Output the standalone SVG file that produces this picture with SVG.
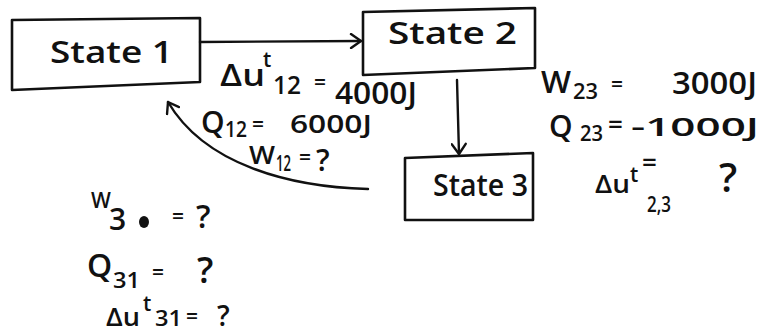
<svg xmlns="http://www.w3.org/2000/svg" width="762" height="334" viewBox="0 0 762 334">
<style>
  .box { fill: none; stroke: #111; stroke-width: 2.6; stroke-linejoin: round; }
  .conn { fill: none; stroke: #111; stroke-width: 2.4; stroke-linecap: round; }
  text { font-family: "Open Sans", "DejaVu Sans", sans-serif; fill: #111; font-weight: 600; }
  .lbl { font-size: 30px; }
  .med { font-size: 26px; }
  .sub { font-size: 21px; }
</style>
<defs>
  <marker id="arr" markerWidth="16" markerHeight="16" refX="14" refY="8" orient="auto" markerUnits="userSpaceOnUse">
    <path d="M4,1 L14,8 L4,15" fill="none" stroke="#111" stroke-width="2.4" stroke-linecap="round" stroke-linejoin="round"/>
  </marker>
</defs>
<rect width="762" height="334" fill="#ffffff"/>

<g id="state1">
  <path class="box" d="M12,20 L200,18 L200,82 L12,90 Z"/>
  <text class="lbl" x="50" y="63" textLength="123" lengthAdjust="spacingAndGlyphs">State 1</text>
</g>
<g id="state2">
  <path class="box" d="M363,12 L535,8 L535,68 L363,75 Z"/>
  <text class="lbl" x="388" y="44" textLength="129" lengthAdjust="spacingAndGlyphs">State 2</text>
</g>
<g id="state3">
  <path class="box" d="M405,158 L533,153 L533,220 L405,220 Z"/>
  <text class="lbl" x="433" y="196" textLength="95" lengthAdjust="spacingAndGlyphs">State 3</text>
</g>

<g id="connectors">
  <path class="conn" d="M200,42 L361,41" marker-end="url(#arr)"/>
  <path class="conn" d="M457,80 L459,154" marker-end="url(#arr)"/>
  <path class="conn" d="M368,189 C290,187 205,165 168,102" marker-end="url(#arr)"/>
</g>

<g id="label-12">
  <text class="lbl" x="220" y="86" textLength="45" lengthAdjust="spacingAndGlyphs">Δu</text>
  <text class="sub" x="263" y="67">t</text>
  <text class="med" x="273" y="94" font-size="24" textLength="28" lengthAdjust="spacingAndGlyphs">12</text>
  <text class="sub" x="314" y="90">=</text>
  <text class="lbl" x="335" y="104" font-size="26" textLength="82" lengthAdjust="spacingAndGlyphs">4000J</text>
  <text class="lbl" x="201" y="133">Q</text>
  <text class="sub" x="225" y="137" font-size="20" textLength="22" lengthAdjust="spacingAndGlyphs">12</text>
  <text class="sub" x="252" y="132">=</text>
  <text class="med" x="290" y="133" textLength="82" lengthAdjust="spacingAndGlyphs">6000J</text>
  <text class="med" x="249" y="164" font-size="24" textLength="26" lengthAdjust="spacingAndGlyphs">W</text>
  <text class="sub" x="276" y="171" font-size="18" textLength="15" lengthAdjust="spacingAndGlyphs">12</text>
  <text class="sub" x="299" y="165" font-size="16">=</text>
  <text class="lbl" x="316" y="171">?</text>
</g>

<g id="label-23">
  <text class="lbl" x="541" y="93" textLength="30" lengthAdjust="spacingAndGlyphs">W</text>
  <text class="sub" x="573" y="99" font-size="22" textLength="25" lengthAdjust="spacingAndGlyphs">23</text>
  <text class="sub" x="611" y="92">=</text>
  <text class="lbl" x="672" y="94" textLength="85" lengthAdjust="spacingAndGlyphs">3000J</text>
  <text class="lbl" x="549" y="137">Q</text>
  <text class="sub" x="580" y="141" font-size="22" textLength="23" lengthAdjust="spacingAndGlyphs">23</text>
  <text class="med" x="608" y="133" font-size="22">=</text>
  <text class="med" x="631" y="136" textLength="128" lengthAdjust="spacingAndGlyphs">-1000J</text>
  <text class="med" x="595" y="193" textLength="35" lengthAdjust="spacingAndGlyphs">Δu</text>
  <text class="sub" x="630" y="182" font-size="19">t</text>
  <text class="med" x="642" y="171" font-size="22">=</text>
  <text class="sub" x="647" y="212" textLength="24" lengthAdjust="spacingAndGlyphs">2,3</text>
  <text x="719" y="192" font-size="40">?</text>
</g>

<g id="label-31">
  <text class="sub" x="91" y="208" font-size="22">W</text>
  <text class="lbl" x="109" y="230" font-size="28">3</text>
  <ellipse cx="144" cy="222" rx="5" ry="6" fill="#111"/>
  <text class="sub" x="172" y="224">=</text>
  <text x="196" y="228" font-size="32">?</text>
  <text x="87" y="277" font-size="32">Q</text>
  <text class="sub" x="113" y="288" font-size="24" textLength="27" lengthAdjust="spacingAndGlyphs">31</text>
  <text class="sub" x="152" y="280">=</text>
  <text x="197" y="283" font-size="36">?</text>
  <text class="med" x="106" y="326" font-size="24" textLength="34" lengthAdjust="spacingAndGlyphs">Δu</text>
  <text class="sub" x="143" y="311" font-size="19">t</text>
  <text class="sub" x="155" y="326" font-size="21" textLength="27" lengthAdjust="spacingAndGlyphs">31</text>
  <text class="sub" x="186" y="324" font-size="18">=</text>
  <text x="217" y="326" font-size="28">?</text>
</g>
</svg>
